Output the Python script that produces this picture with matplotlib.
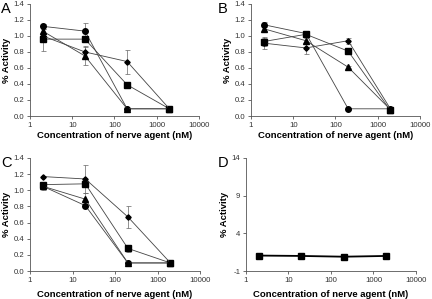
import matplotlib
matplotlib.use("Agg")
import matplotlib.pyplot as plt

plt.rcParams["font.family"] = ["Liberation Sans", "DejaVu Sans"]

CONC = [2, 20, 200, 2000]

# panel A
A_CIRCLE = [1.12, 1.06, 0.09, 0.09]
A_CIRCLE_ERR = [0.03, 0.10, 0.01, 0.01]
A_SQUARE = [0.96, 0.96, 0.39, 0.09]
A_SQUARE_ERR = [0.15, 0.02, 0.02, 0.01]
A_TRIANGLE = [1.06, 0.75, 0.09, 0.09]
A_TRIANGLE_ERR = [0.03, 0.11, 0.01, 0.01]
A_DIAMOND = [1.00, 0.80, 0.68, 0.09]
A_DIAMOND_ERR = [0.03, 0.07, 0.15, 0.01]

# panel B
B_CIRCLE = [1.14, 1.03, 0.09, 0.09]
B_CIRCLE_ERR = [0.03, 0.03, 0.01, 0.02]
B_SQUARE = [0.93, 1.02, 0.81, 0.07]
B_SQUARE_ERR = [0.06, 0.03, 0.04, 0.02]
B_TRIANGLE = [1.09, 0.94, 0.61, 0.08]
B_TRIANGLE_ERR = [0.03, 0.04, 0.01, 0.01]
B_DIAMOND = [0.91, 0.85, 0.94, 0.09]
B_DIAMOND_ERR = [0.07, 0.07, 0.04, 0.01]

# panel C
C_CIRCLE = [1.05, 0.81, 0.10, 0.10]
C_CIRCLE_ERR = [0.02, 0.02, 0.01, 0.01]
C_SQUARE = [1.07, 1.08, 0.28, 0.10]
C_SQUARE_ERR = [0.03, 0.03, 0.04, 0.01]
C_TRIANGLE = [1.05, 0.89, 0.10, 0.10]
C_TRIANGLE_ERR = [0.05, 0.08, 0.01, 0.01]
C_DIAMOND = [1.17, 1.14, 0.67, 0.10]
C_DIAMOND_ERR = [0.01, 0.17, 0.14, 0.01]

# panel D
D_SQUARE = [1.05, 1.00, 0.90, 1.00]
D_SQUARE_ERR = [0.05, 0.05, 0.05, 0.05]

Y_TICKS_ABC = [0.0, 0.2, 0.4, 0.6, 0.8, 1.0, 1.2, 1.4]
Y_TICKS_D = [-1, 4, 9, 14]
X_TICKS = [1, 10, 100, 1000, 10000]
X_LABEL = "Concentration of nerve agent (nM)"
Y_LABEL = "% Activity"

MARKERS = {"circle": ("o", 4.0), "square": ("s", 3.8),
           "triangle": ("^", 4.0), "diamond": ("D", 2.7)}


def estilo(ax, yticks, ylim, xpad):
    ax.set_xscale("log")
    ax.set_xlim(1, 10000)
    ax.set_ylim(*ylim)
    ax.set_xticks(X_TICKS)
    ax.set_xticklabels([str(t) for t in X_TICKS])
    ax.minorticks_off()
    ax.set_yticks(yticks)
    if ylim[1] < 2:
        ax.set_yticklabels([f"{t:.1f}" for t in yticks])
    else:
        ax.set_yticklabels([str(t) for t in yticks])
    for s in ("top", "right"):
        ax.spines[s].set_visible(False)
    for s in ("left", "bottom"):
        ax.spines[s].set_linewidth(0.6)
        ax.spines[s].set_color("#555555")
    ax.tick_params(length=2.5, width=0.6, color="#555555",
                   labelsize=5.6, labelcolor="#333333", pad=1.5)
    ax.set_xlabel(X_LABEL, fontsize=6.8, fontweight="bold",
                  labelpad=xpad)
    ax.set_ylabel(Y_LABEL, fontsize=6.8, fontweight="bold", labelpad=2)


def serie(ax, valores, errores, tipo, lw=0.6, color="#444444"):
    m, ms = MARKERS[tipo]
    ax.errorbar(CONC, valores, yerr=errores, fmt="-", marker=m,
                markersize=ms, color=color, mfc="black", mec="black",
                lw=lw, elinewidth=0.5, ecolor="#666666", capsize=1.8,
                capthick=0.5, clip_on=False)


fig = plt.figure(figsize=(4.32, 2.99), dpi=100)

ax_a = fig.add_axes([0.0694, 0.612, 0.391, 0.375])
ax_b = fig.add_axes([0.581, 0.612, 0.391, 0.375])
ax_c = fig.add_axes([0.0694, 0.0936, 0.394, 0.378])
ax_d = fig.add_axes([0.569, 0.0936, 0.394, 0.378])

serie(ax_a, A_CIRCLE, A_CIRCLE_ERR, "circle")
serie(ax_a, A_SQUARE, A_SQUARE_ERR, "square")
serie(ax_a, A_TRIANGLE, A_TRIANGLE_ERR, "triangle")
serie(ax_a, A_DIAMOND, A_DIAMOND_ERR, "diamond")

serie(ax_b, B_CIRCLE, B_CIRCLE_ERR, "circle")
serie(ax_b, B_SQUARE, B_SQUARE_ERR, "square")
serie(ax_b, B_TRIANGLE, B_TRIANGLE_ERR, "triangle")
serie(ax_b, B_DIAMOND, B_DIAMOND_ERR, "diamond")

serie(ax_c, C_CIRCLE, C_CIRCLE_ERR, "circle")
serie(ax_c, C_SQUARE, C_SQUARE_ERR, "square")
serie(ax_c, C_TRIANGLE, C_TRIANGLE_ERR, "triangle")
serie(ax_c, C_DIAMOND, C_DIAMOND_ERR, "diamond")

serie(ax_d, D_SQUARE, D_SQUARE_ERR, "square", lw=1.3, color="black")

for ax in (ax_a, ax_b):
    estilo(ax, Y_TICKS_ABC, (0, 1.4), 2)
estilo(ax_c, Y_TICKS_ABC, (0, 1.4), 4.5)
estilo(ax_d, Y_TICKS_D, (-1, 14), 4.5)

for letra, x, y in (("A", 0.003, 0.992), ("B", 0.503, 0.992),
                    ("C", 0.003, 0.478), ("D", 0.503, 0.478)):
    fig.text(x, y, letra, fontsize=10.5, va="top", ha="left")

fig.savefig("out.png", dpi=100)
